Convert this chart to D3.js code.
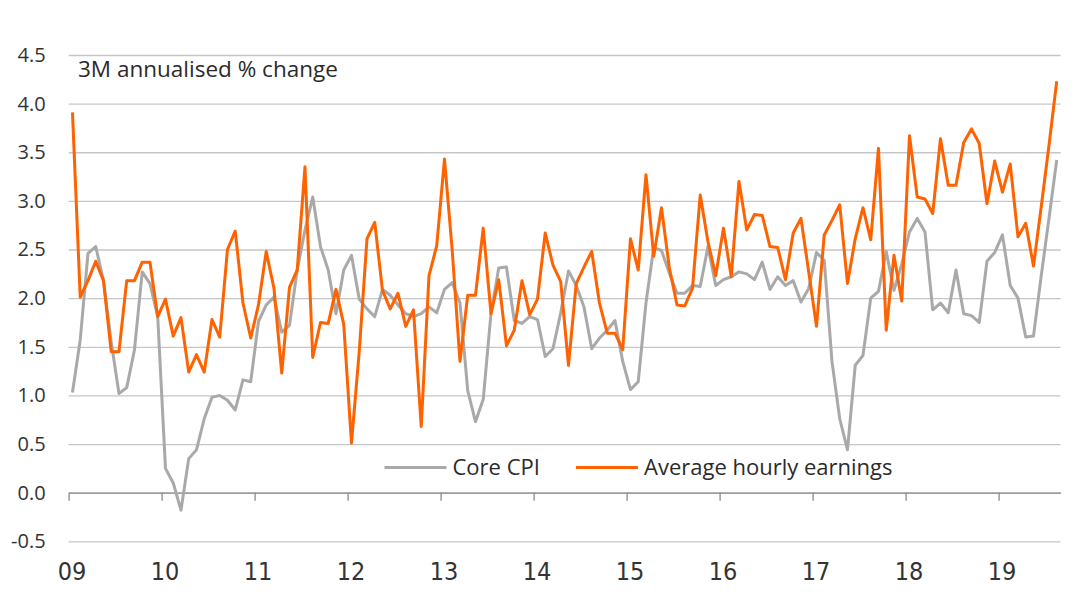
<!DOCTYPE html>
<html>
  <head>
    <meta charset="utf-8">
    <title>Core CPI vs average hourly earnings</title>
    <script src="https://d3js.org/d3.v7.min.js"></script>
    <style>
      body { margin: 0; background: #fff; }
      .grid .tick line { stroke: #c6c6c6; stroke-width: 1.3px; }
      .grid .tick text { font-family: "Open Sans", sans-serif; font-size: 20px; fill: #333; }
      .grid .domain { display: none; }
      .xaxis .domain { stroke: #8a8a8a; stroke-width: 1.3px; }
      .xaxis .tick line { stroke: #8a8a8a; stroke-width: 1.3px; }
      .xaxis .tick text { font-family: "Liberation Sans Narrow", "DejaVu Sans Condensed", sans-serif; font-size: 25px; fill: #333; }
      .title, .legend text { font-family: "Open Sans", sans-serif; font-size: 22px; fill: #2b2b2b; }
    </style>
  </head>
  <body>
    <svg width="1088" height="604"></svg>
    <script>
      // monthly, Jan 2009 .. Aug 2019, 3M annualised % change
      const coreCPI = [
        1.03, 1.57, 2.46, 2.53, 2.18, 1.55, 1.02, 1.08, 1.47, 2.27, 2.15, 1.81,
        0.25, 0.10, -0.18, 0.35, 0.44, 0.76, 0.98, 1.00, 0.95, 0.85, 1.16, 1.14,
        1.76, 1.93, 2.01, 1.65, 1.72, 2.29, 2.70, 3.04, 2.53, 2.29, 1.84, 2.29,
        2.44, 1.99, 1.89, 1.81, 2.09, 2.03, 1.93, 1.84, 1.81, 1.84, 1.91, 1.85,
        2.09, 2.16, 1.95, 1.05, 0.73, 0.96, 1.84, 2.31, 2.32, 1.77, 1.74, 1.81,
        1.78, 1.40, 1.48, 1.85, 2.28, 2.13, 1.91, 1.48, 1.59, 1.67, 1.77, 1.35,
        1.06, 1.14, 1.95, 2.52, 2.49, 2.26, 2.05, 2.05, 2.13, 2.12, 2.53, 2.13,
        2.19, 2.22, 2.27, 2.25, 2.19, 2.37, 2.09, 2.22, 2.13, 2.18, 1.96, 2.10,
        2.47, 2.39, 1.35, 0.76, 0.44, 1.31, 1.41, 2.00, 2.07, 2.48, 2.08, 2.35,
        2.68, 2.82, 2.68, 1.88, 1.95, 1.85, 2.29, 1.84, 1.82, 1.75, 2.38, 2.47,
        2.65, 2.13, 2.00, 1.60, 1.61, 2.23, 2.82, 3.42
      ];
      const hourlyEarnings = [
        3.91, 2.01, 2.18, 2.38, 2.18, 1.45, 1.45, 2.18, 2.18, 2.37, 2.37, 1.81,
        1.99, 1.61, 1.80, 1.24, 1.42, 1.24, 1.78, 1.60, 2.50, 2.69, 1.95, 1.59,
        1.93, 2.48, 2.10, 1.23, 2.11, 2.29, 3.35, 1.39, 1.75, 1.74, 2.09, 1.73,
        0.51, 1.45, 2.61, 2.78, 2.08, 1.89, 2.05, 1.71, 1.88, 0.68, 2.23, 2.54,
        3.43, 2.49, 1.35, 2.03, 2.03, 2.72, 1.84, 2.19, 1.51, 1.67, 2.18, 1.83,
        1.99, 2.67, 2.34, 2.17, 1.31, 2.15, 2.32, 2.48, 1.95, 1.64, 1.64, 1.47,
        2.61, 2.29, 3.27, 2.43, 2.93, 2.32, 1.93, 1.92, 2.10, 3.06, 2.58, 2.23,
        2.72, 2.22, 3.20, 2.70, 2.86, 2.85, 2.53, 2.52, 2.19, 2.67, 2.82, 2.27,
        1.71, 2.65, 2.80, 2.96, 2.15, 2.61, 2.93, 2.60, 3.54, 1.67, 2.44, 1.97,
        3.67, 3.04, 3.02, 2.87, 3.64, 3.16, 3.16, 3.60, 3.74, 3.59, 2.97, 3.41,
        3.09, 3.38, 2.63, 2.77, 2.33, 2.94, 3.57, 4.23
      ];
      const yearLabels = ["09", "10", "11", "12", "13", "14", "15", "16", "17", "18", "19"];
      const yTicks = [-0.5, 0, 0.5, 1, 1.5, 2, 2.5, 3, 3.5, 4, 4.5];
      const seriesNames = ["Core CPI", "Average hourly earnings"];
      const seriesColors = ["#a9a9a9", "#ff6200"];

      const svg = d3.select("svg");
      const left = 68.6, right = 1060.6;
      const nMonths = coreCPI.length;

      const x = d3.scaleLinear().domain([0, nMonths]).range([left, right]);
      const y = d3.scaleLinear().domain([-0.5, 4.5]).range([541.3, 55]);

      // gridlines + y labels
      svg.append("g")
          .attr("class", "grid")
          .attr("transform", `translate(${left},0)`)
          .call(d3.axisLeft(y)
            .tickValues(yTicks)
            .tickFormat(d => d.toFixed(1))
            .tickSizeInner(-(right - left))
            .tickSizeOuter(0)
            .tickPadding(23));

      // x axis on the zero line, labels down below
      const xAxisG = svg.append("g")
          .attr("class", "xaxis")
          .attr("transform", `translate(0,${y(0)})`)
          .call(d3.axisBottom(x)
            .tickValues(d3.range(0, nMonths, 12))
            .tickFormat((d, i) => yearLabels[i])
            .tickSizeInner(8)
            .tickSizeOuter(0)
            .tickPadding(62));
      xAxisG.selectAll(".tick text").attr("dx", 3);

      const line = d3.line()
        .x((d, i) => x(i + 0.5))
        .y(d => y(d));

      [coreCPI, hourlyEarnings].forEach((s, k) => {
        svg.append("path")
            .datum(s)
            .attr("fill", "none")
            .attr("stroke", seriesColors[k])
            .attr("stroke-width", 3)
            .attr("stroke-linejoin", "round")
            .attr("d", line);
      });

      svg.append("text")
          .attr("class", "title")
          .attr("x", 78)
          .attr("y", 77)
          .style("font-size", "22.5px")
          .text("3M annualised % change");

      // legend
      const legendX = [384.5, 576];
      const legend = svg.append("g").attr("class", "legend");
      seriesNames.forEach((name, k) => {
        legend.append("line")
            .attr("x1", legendX[k])
            .attr("x2", legendX[k] + 62)
            .attr("y1", 467.5)
            .attr("y2", 467.5)
            .attr("stroke", seriesColors[k])
            .attr("stroke-width", 3);
        legend.append("text")
            .attr("x", legendX[k] + 68)
            .attr("y", 467.5)
            .attr("dy", "0.35em")
            .text(name);
      });
    </script>
  </body>
</html>
